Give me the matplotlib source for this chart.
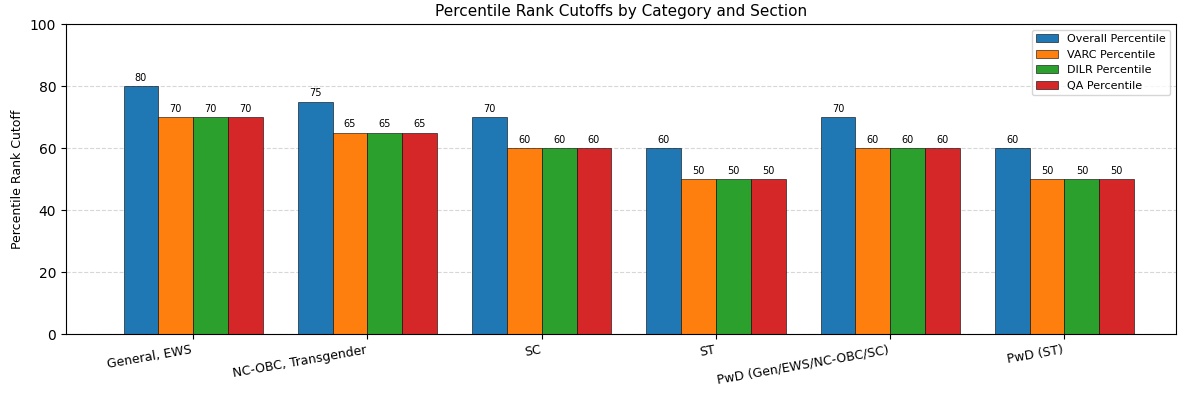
import matplotlib.pyplot as plt
import numpy as np

categories = ['General, EWS', 'NC-OBC, Transgender', 'SC', 'ST',
              'PwD (Gen/EWS/NC-OBC/SC)', 'PwD (ST)']
overall = [80, 75, 70, 60, 70, 60]
varc = [70, 65, 60, 50, 60, 50]
dilr = [70, 65, 60, 50, 60, 50]
qa = [70, 65, 60, 50, 60, 50]
series_names = ['Overall Percentile', 'VARC Percentile', 'DILR Percentile', 'QA Percentile']
colors = ['#1f77b4', '#ff7f0e', '#2ca02c', '#d62728']

fig, ax = plt.subplots(figsize=(12, 4), dpi=100)
x = np.arange(len(categories))
w = 0.2
for i, (vals, name, c) in enumerate(zip([overall, varc, dilr, qa], series_names, colors)):
    bars = ax.bar(x + (i - 1.5) * w, vals, w, label=name, color=c, edgecolor='black', linewidth=0.4)
    for b, v in zip(bars, vals):
        ax.text(b.get_x() + b.get_width() / 2, v + 1, str(v), ha='center', va='bottom', fontsize=7)

ax.set_ylim(0, 100)
ax.set_xlim(-0.73, len(categories) - 0.36)
ax.set_xticks(x)
ax.set_xticklabels(categories, rotation=10, ha='right', fontsize=9)
ax.set_ylabel('Percentile Rank Cutoff', fontsize=9)
ax.set_title('Percentile Rank Cutoffs by Category and Section', fontsize=11)
ax.yaxis.grid(True, linestyle='--', alpha=0.5)
ax.set_axisbelow(True)
ax.legend(loc='upper right', fontsize=8)
fig.subplots_adjust(left=0.055, right=0.98, top=0.94, bottom=0.165)
fig.savefig('out.png')
